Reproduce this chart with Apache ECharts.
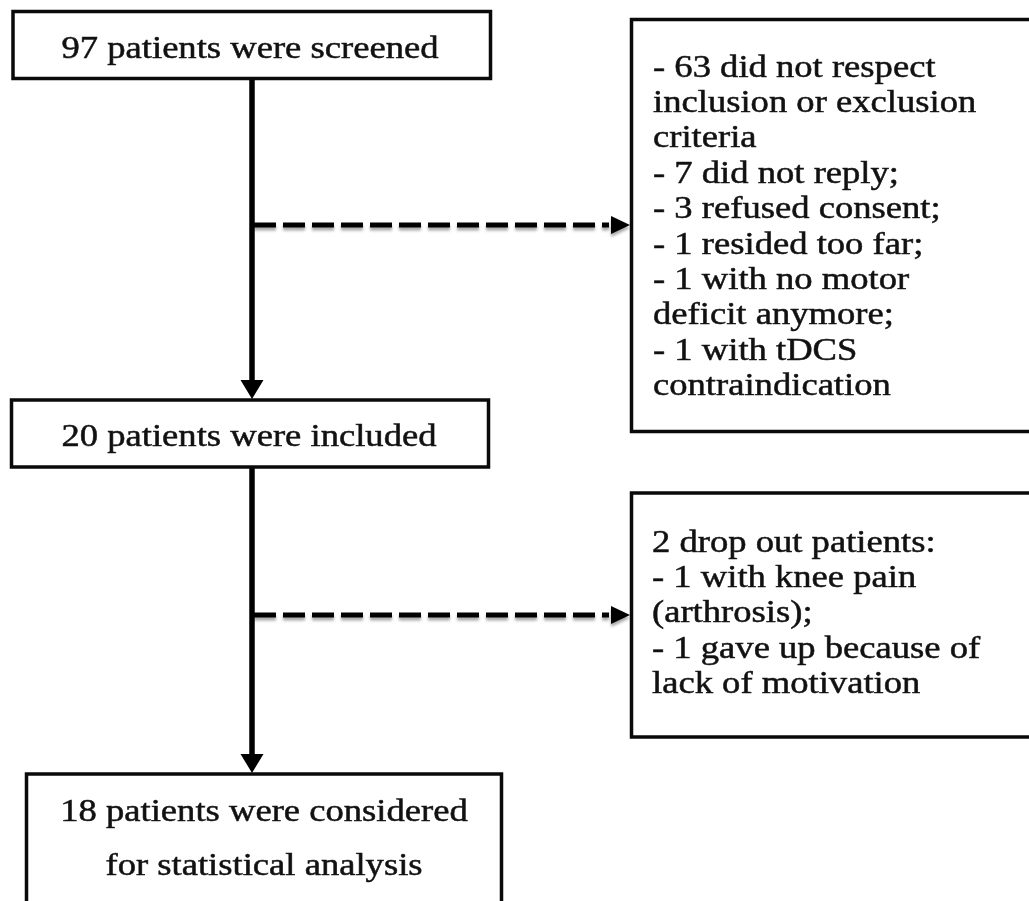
<!DOCTYPE html>
<html>
<head>
<meta charset="utf-8">
<script src="https://cdn.jsdelivr.net/npm/echarts@6/dist/echarts.min.js"></script>
<style>
  html, body { margin: 0; padding: 0; background: #ffffff; }
  #chart { width: 1029px; height: 901px; }
</style>
</head>
<body>
<div id="chart"></div>
<script>
// ---------------- DATA ----------------
const stageLabels = [
  ['97 patients were screened'],
  ['20 patients were included'],
  ['18 patients were considered', 'for statistical analysis']
];
const exclusionLines = [
  '- 63 did not respect',
  'inclusion or exclusion',
  'criteria',
  '- 7 did not reply;',
  '- 3 refused consent;',
  '- 1 resided too far;',
  '- 1 with no motor',
  'deficit anymore;',
  '- 1 with tDCS',
  'contraindication'
];
const dropoutLines = [
  '2 drop out patients:',
  '- 1 with knee pain',
  '(arthrosis);',
  '- 1 gave up because of',
  'lack of motivation'
];

// ---------------- LAYOUT (diagram units = pixels of the 1029x901 canvas) ----------------
const boxLayout = [
  { r: [13, 11.5, 490.5, 78.5], tx: 250, ty: 49.5, gap: 0, align: 'center', lines: stageLabels[0] },
  { r: [631.5, 19.5, 1060, 431.5], tx: 653, ty: 68.5, gap: 35.4, align: 'left', lines: exclusionLines },
  { r: [11.5, 400, 488.5, 467], tx: 249, ty: 437.5, gap: 0, align: 'center', lines: stageLabels[1] },
  { r: [631.5, 493, 1060, 737], tx: 652, ty: 543.5, gap: 35.4, align: 'left', lines: dropoutLines },
  { r: [26.5, 774, 501.5, 960], tx: 264, ty: 813, gap: 54, align: 'center', lines: stageLabels[2] }
];
const flowLayout = [
  { p: [252, 80, 252, 399], dashed: false },
  { p: [252, 468, 252, 773], dashed: false },
  { p: [254, 225, 630, 225], dashed: true },
  { p: [254, 615, 630, 615], dashed: true }
];

const FONT = '30.5px "Liberation Serif", "Times New Roman", serif';
const TEXT_SCALE_X = 1.2;

const chart = echarts.init(document.getElementById('chart'), null, { renderer: 'canvas' });

function renderBox(params, api) {
  const b = boxLayout[api.value(0)];
  const p0 = api.coord([b.r[0], b.r[1]]);
  const p1 = api.coord([b.r[2], b.r[3]]);
  const children = [{
    type: 'rect',
    shape: { x: p0[0], y: p0[1], width: p1[0] - p0[0], height: p1[1] - p0[1] },
    style: { fill: '#ffffff', stroke: '#0a0a0a', lineWidth: 3.5 }
  }];
  b.lines.forEach(function (line, i) {
    const a = api.coord([b.tx, b.ty + i * b.gap]);
    children.push({
      type: 'text',
      x: a[0], y: a[1],
      scaleX: TEXT_SCALE_X,
      style: {
        text: line, x: 0, y: 0,
        font: FONT, fill: '#111111',
        stroke: '#222222', lineWidth: 0.5,
        align: b.align, verticalAlign: 'middle'
      }
    });
  });
  return { type: 'group', children: children };
}

function renderFlow(params, api) {
  const f = flowLayout[api.value(0)];
  const s = api.coord([f.p[0], f.p[1]]);
  const e = api.coord([f.p[2], f.p[3]]);
  const children = [];
  if (!f.dashed) {
    const headLen = 19, headHalf = 11.5;
    children.push({
      type: 'line',
      shape: { x1: s[0], y1: s[1], x2: e[0], y2: e[1] - headLen + 1 },
      style: { stroke: '#000', lineWidth: 5.5 }
    });
    children.push({
      type: 'polygon',
      shape: { points: [[e[0] - headHalf, e[1] - headLen], [e[0] + headHalf, e[1] - headLen], [e[0], e[1]]] },
      style: { fill: '#000' }
    });
  } else {
    const headLen = 19, headHalf = 9;
    children.push({
      type: 'line',
      shape: { x1: s[0], y1: s[1], x2: e[0] - headLen - 2, y2: e[1] },
      style: {
        stroke: '#000', lineWidth: 5, lineDash: [22, 7], lineCap: 'butt',
        shadowColor: 'rgba(0,0,0,0.35)', shadowBlur: 3, shadowOffsetY: 3
      }
    });
    children.push({
      type: 'polygon',
      shape: { points: [[e[0] - headLen, e[1] - headHalf], [e[0] - headLen, e[1] + headHalf], [e[0], e[1]]] },
      style: { fill: '#000', shadowColor: 'rgba(0,0,0,0.35)', shadowBlur: 3, shadowOffsetY: 3 }
    });
  }
  return { type: 'group', children: children };
}

chart.setOption({
  backgroundColor: '#ffffff',
  animation: false,
  grid: { left: 0, right: 0, top: 0, bottom: 0 },
  xAxis: { type: 'value', min: 0, max: 1029, show: false },
  yAxis: { type: 'value', min: 0, max: 901, inverse: true, show: false },
  series: [
    {
      type: 'custom',
      clip: false,
      renderItem: renderFlow,
      data: flowLayout.map(function (_, i) { return [i]; }),
      z: 1
    },
    {
      type: 'custom',
      clip: false,
      renderItem: renderBox,
      data: boxLayout.map(function (_, i) { return [i]; }),
      z: 2
    }
  ]
});
</script>
</body>
</html>
